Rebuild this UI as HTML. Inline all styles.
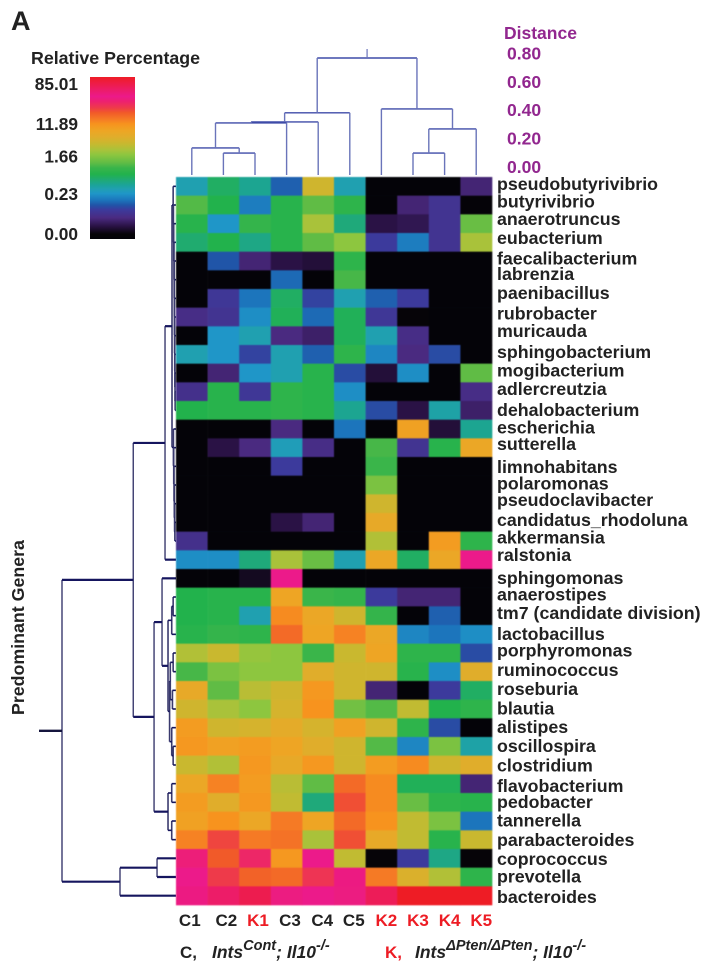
<!DOCTYPE html>
<html lang="en">
<head>
<meta charset="utf-8">
<title>Predominant genera heatmap</title>
<style>
html,body{margin:0;padding:0;background:#fff}
svg{display:block}
text{font-family:"Liberation Sans",sans-serif;font-weight:bold;fill:#222}
</style>
</head>
<body>
<svg id="chart" xmlns="http://www.w3.org/2000/svg" width="714" height="973" viewBox="0 0 714 973">
<defs><linearGradient id="barGradient" x1="0" y1="1" x2="0" y2="0"></linearGradient></defs>
<text x="11" y="30" font-size="27">A</text>
<text x="31" y="64" font-size="17.8">Relative Percentage</text>
<text x="504" y="39" font-size="17.5" style="fill:#92278f">Distance</text>
<text transform="translate(24 715) rotate(-90)" font-size="17.8">Predominant Genera</text>
<g id="colorbar"></g>
<g id="distanceTicks"></g>
<g id="topTree"></g>
<g id="leftTree"></g>
<g id="cells" style="filter:blur(0.4px)"></g>
<g id="genusLabels"></g>
<g id="sampleLabels"></g>
<g>
<text x="180" y="958" font-size="17">C,</text>
<text x="212" y="958" font-size="17.5" font-style="italic">Ints<tspan dy="-8" font-size="14.5">Cont</tspan><tspan dy="8">; Il10</tspan><tspan dy="-8" font-size="14.5">-/-</tspan></text>
<text x="385" y="958" font-size="17" style="fill:#ed1c24">K,</text>
<text x="415" y="958" font-size="17.5" font-style="italic">Ints<tspan dy="-8" font-size="14.5">ΔPten/ΔPten</tspan><tspan dy="8">; Il10</tspan><tspan dy="-8" font-size="14.5">-/-</tspan></text>
</g>
</svg>
<script>
const samples = ["C1","C2","K1","C3","C4","C5","K2","K3","K4","K5"];
const genera = ["pseudobutyrivibrio","butyrivibrio","anaerotruncus","eubacterium","faecalibacterium","labrenzia","paenibacillus","rubrobacter","muricauda","sphingobacterium","mogibacterium","adlercreutzia","dehalobacterium","escherichia","sutterella","limnohabitans","polaromonas","pseudoclavibacter","candidatus_rhodoluna","akkermansia","ralstonia","sphingomonas","anaerostipes","tm7 (candidate division)","lactobacillus","porphyromonas","ruminococcus","roseburia","blautia","alistipes","oscillospira","clostridium","flavobacterium","pedobacter","tannerella","parabacteroides","coprococcus","prevotella","bacteroides"];
// Colour-scale level (0 = bottom of scale, 100 = top) for each genus/sample.
const cellLevels = [
[31,38,34,22,60,31,0,0,0,12],
[46,40,25,41,47,42,0,12,16,1],
[41,28,43,41,55,36,8,9,16,48],
[37,40,35,41,47,52,18,25,16,55],
[0,21,12,8,7,42,0,0,0,0],
[0,0,0,23,0,45,0,0,0,0],
[0,17,24,38,19,31,22,18,0,0],
[14,16,27,39,23,39,17,3,0,0],
[0,28,31,13,11,39,31,14,0,0],
[31,28,19,31,22,42,26,13,20,0],
[0,12,28,31,41,20,7,27,0,47],
[15,41,17,42,41,27,0,0,0,14],
[40,41,41,42,41,34,20,8,32,11],
[0,0,0,13,0,24,0,68,7,34],
[0,8,13,30,14,0,45,16,41,66],
[0,0,0,18,0,0,44,0,0,0],
[0,0,0,0,0,0,50,0,0,0],
[0,0,0,0,0,0,60,0,0,0],
[0,0,0,8,12,0,65,0,0,0],
[15,0,0,0,0,0,56,0,69,42],
[27,27,36,55,48,31,66,38,66,88],
[0,0,5,88,0,0,0,0,0,0],
[40,41,41,67,44,43,18,12,12,0],
[40,41,31,72,66,60,43,0,22,0],
[41,43,42,76,67,73,66,26,24,27],
[56,59,53,52,44,59,67,42,42,20],
[45,50,52,52,63,60,60,41,27,63],
[65,47,57,60,70,60,12,0,18,38],
[60,55,52,61,71,49,46,58,40,42],
[69,60,61,64,61,68,60,42,20,0],
[70,68,69,67,63,60,46,26,50,32],
[59,56,70,65,70,60,69,72,60,63],
[66,73,69,57,47,76,72,39,39,12],
[69,63,70,58,36,79,72,48,42,41],
[68,71,66,74,67,76,71,58,50,24],
[73,80,74,75,55,79,65,58,41,59],
[86,78,84,70,88,58,3,18,35,3],
[88,81,77,76,82,89,74,62,56,42],
[89,92,95,87,88,87,94,100,100,100]
];
const scaleTickLabels = ["85.01","11.89","1.66","0.23","0.00"];
const scaleTickLevels = [95.7,71,51,27.8,3];
const distanceTickLabels = ["0.80","0.60","0.40","0.20","0.00"];
// Dendrograms as nested merges: [childA, childB, mergeDistance]; numbers at the leaves are sample / genus indexes.
const sampleTree = [
  [[[[0,[1,2,0.15],0.185],3,0.356],4,0.363],5,0.425],
  [6,[[7,8,0.15],9,0.315],0.452],
  0.80
];
const genusTreeUpperA = [0,[1,[2,[3,[4,[5,[6,[7,[8,[9,[10,[11,12,0.006],0.007],0.008],0.009],0.01],0.011],0.012],0.013],0.014],0.016],0.018],0.02];
const genusTreeUpperB = [13,[14,[15,[16,[17,[18,19,0.008],0.01],0.012],0.014],0.016],0.018];
const genusTreeLowerA = [[22,23,0.02],24,0.03];
const genusTreeLowerB = [[[25,26,0.02],[27,28,0.025],0.04],[29,[30,31,0.02],0.03],0.045];
const genusTreeLowerC = [[32,33,0.03],[34,35,0.03],0.056];
const genusTree = [
  [
    [[genusTreeUpperA,genusTreeUpperB,0.028],20,0.077],
    [[21,[genusTreeLowerA,genusTreeLowerB,0.056],0.098],genusTreeLowerC,0.154],
    0.30
  ],
  [[36,37,0.133],38,0.393],
  0.80
];
const colorStops = [[0,"#040308"],[3,"#060408"],[8,"#2a1245"],[13,"#4a2a80"],[18,"#3c3a9c"],[21,"#2055a8"],[24,"#1c75bc"],[28,"#1f96c8"],[31,"#20a0b0"],[33,"#1ba39c"],[36,"#1fa97a"],[40,"#22b24c"],[44,"#3ab54a"],[47,"#60bc45"],[52,"#8dc63f"],[55,"#a9c23a"],[59,"#c9b82f"],[63,"#e0ad2b"],[67,"#eea524"],[71,"#f7931e"],[74,"#f57a25"],[78,"#f15a29"],[81,"#ee3a4a"],[85,"#ed2070"],[88,"#ec1a8a"],[93,"#ed1c60"],[100,"#ee1c25"]];
// Layout only: small label shifts seen in the figure.
const labelShift = [-2,-3,-4,-4,-2,-5,-5,-3,-4,-2,-2,-2,0,-1,-3,1,-1,-3,-2,-3,-4,0,-2,-2,0,-2,-1,-1,0,0,0,1,3,0,0,1,1,0,2];
const sampleShift = [-2,3,3,3.4,4,4,5,5,5,5];

const NS = "http://www.w3.org/2000/svg";
const gridLeft = 176, gridRight = 492, gridTop = 177, gridBottom = 905;
const colW = (gridRight - gridLeft) / samples.length;
const rowH = (gridBottom - gridTop) / genera.length;
const xCol = i => gridLeft + colW * (i + 0.5);
const yRow = i => gridTop + rowH * (i + 0.5);
const barTop = 77, barBottom = 239;
const yBar = level => barBottom - (barBottom - barTop) * level / 100;
const yDistance = d => 175 - d * 146.25;
const xDistance = d => 176 - d * 142.5;

function hex(c){return [1,3,5].map(i => parseInt(c.substr(i,2),16));}
function colorFor(level){
  const v = Math.max(0, Math.min(100, level));
  for (let i = 1; i < colorStops.length; i++) {
    if (v <= colorStops[i][0]) {
      const a = colorStops[i-1], b = colorStops[i];
      const t = (v - a[0]) / (b[0] - a[0] || 1);
      const ca = hex(a[1]), cb = hex(b[1]);
      return "rgb(" + ca.map((x,k) => Math.round(x + (cb[k]-x)*t)).join(",") + ")";
    }
  }
  return colorStops[colorStops.length-1][1];
}
function make(tag, parent, attrs, txt){
  const el = document.createElementNS(NS, tag);
  for (const k in attrs) el.setAttribute(k, attrs[k]);
  if (txt !== undefined) el.textContent = txt;
  parent.appendChild(el);
  return el;
}

// heatmap
const cellsG = document.getElementById("cells");
cellLevels.forEach((row, r) => row.forEach((v, c) => {
  const el = make("rect", cellsG, {x: gridLeft + c*colW, y: gridTop + r*rowH, width: colW + 0.3, height: rowH + 0.3, fill: colorFor(v)});
  
  
}));

// genus labels
const genusG = document.getElementById("genusLabels");
genera.forEach((g, i) => {
  const el = make("text", genusG, {x: 497, y: yRow(i) + labelShift[i] + 5.5, "font-size": 17.8}, g);
  
  
});

// sample labels
const sampleG = document.getElementById("sampleLabels");
samples.forEach((s, i) => {
  const el = make("text", sampleG, {x: xCol(i) + sampleShift[i], y: 926, "font-size": 17, "text-anchor": "middle"}, s);
  
  
  if (s[0] === "K") el.style.fill = "#ed1c24";
});

// colour bar
const grad = document.getElementById("barGradient");
colorStops.forEach(s => make("stop", grad, {offset: s[0] + "%", "stop-color": s[1]}));
const barG = document.getElementById("colorbar");
const barRect = make("rect", barG, {x: 90, y: barTop, width: 45, height: barBottom - barTop, fill: "url(#barGradient)"});


scaleTickLabels.forEach((t, i) => {
  const el = make("text", barG, {x: 78, y: yBar(scaleTickLevels[i]) + 6, "font-size": 17.3, "text-anchor": "end"}, t);
  
  
});

// distance ticks
const distG = document.getElementById("distanceTicks");
distanceTickLabels.forEach(t => {
  const el = make("text", distG, {x: 507, y: 173 - parseFloat(t) * 142, "font-size": 17.5});
  el.textContent = t;
  el.style.fill = "#92278f";
  
  
});

// dendrograms
function line(g, x1, y1, x2, y2, color, w){
  const el = make("line", g, {x1, y1, x2, y2, stroke: color, "stroke-width": w});
  
  
}
const topG = document.getElementById("topTree");
function drawTop(node){
  if (typeof node === "number") return {x: xCol(node), d: 0};
  const a = drawTop(node[0]), b = drawTop(node[1]);
  const y = yDistance(node[2]);
  line(topG, a.x, y, b.x, y, "#3f4ba8", 1.4);
  line(topG, a.x, y, a.x, yDistance(a.d), "#6a74ba", 1.4);
  line(topG, b.x, y, b.x, yDistance(b.d), "#6a74ba", 1.4);
  return {x: (a.x + b.x) / 2, d: node[2]};
}
const topRoot = drawTop(sampleTree);
line(topG, topRoot.x, yDistance(topRoot.d), topRoot.x, yDistance(topRoot.d) - 9, "#6a74ba", 1.2);

const leftG = document.getElementById("leftTree");
function drawLeft(node){
  if (typeof node === "number") return {y: yRow(node), d: 0};
  const a = drawLeft(node[0]), b = drawLeft(node[1]);
  const x = xDistance(node[2]);
  const big = node[2] > 0.06;
  line(leftG, x, a.y, x, b.y, "#3a3a6e", big ? 1.4 : 1.6);
  line(leftG, x, a.y, xDistance(a.d), a.y, "#15155e", big ? 2.2 : 1.6);
  line(leftG, x, b.y, xDistance(b.d), b.y, "#15155e", big ? 2.2 : 1.6);
  return {y: (a.y + b.y) / 2, d: node[2]};
}
const rootLeft = drawLeft(genusTree);
line(leftG, xDistance(genusTree[2]), rootLeft.y, 39, rootLeft.y, "#15153e", 2.4);
</script>
</body>
</html>
